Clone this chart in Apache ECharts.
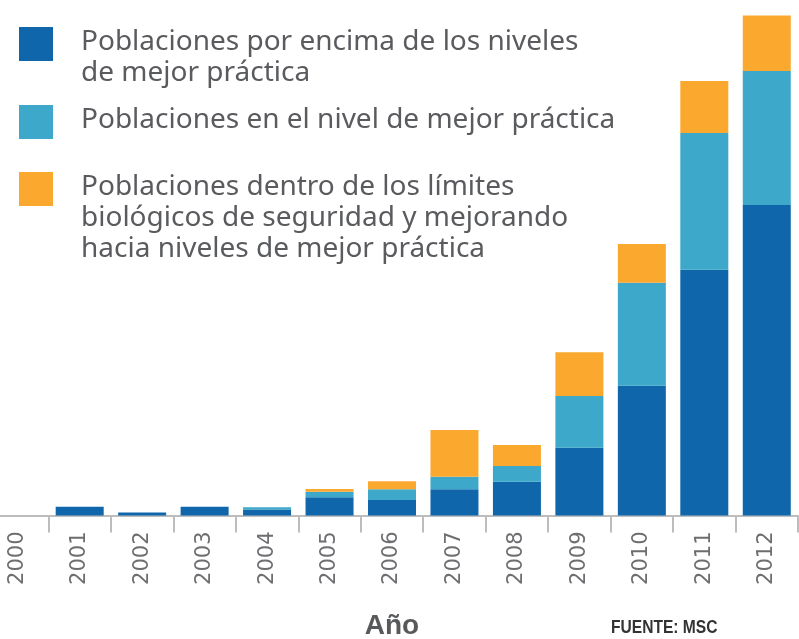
<!DOCTYPE html>
<html>
<head>
<meta charset="utf-8">
<script src="https://cdn.jsdelivr.net/npm/echarts@6/dist/echarts.min.js"></script>
<style>html,body{margin:0;padding:0;background:#fff}#c{width:799px;height:639px}</style>
</head>
<body>
<div id="c"></div>
<script>
const years = ['2000','2001','2002','2003','2004','2005','2006','2007','2008','2009','2010','2011','2012'];
const seriesNames = [
  'Poblaciones por encima de los niveles\nde mejor práctica',
  'Poblaciones en el nivel de mejor práctica',
  'Poblaciones dentro de los límites\nbiológicos de seguridad y mejorando\nhacia niveles de mejor práctica'
];
// relative heights (arbitrary units)
const aboveBest = [null, 8.7, 3, 8.7, 6, 18.2, 15.5, 26.2, 33.8, 67.8, 129.8, 245.8, 310.5];
const atBest    = [null, 0, 0, 0, 2.3, 5.6, 10.7, 12.6, 15.7, 51.7, 103, 136.7, 134];
const improving = [null, 0, 0, 0, 0, 2.7, 8, 46.7, 21, 43.7, 38.7, 52, 57];
const axisTitle = 'Año';
const sourceText = 'FUENTE: MSC';

const colors = ['#0f66ab', '#3da8ca', '#fba82f'];
const chart = echarts.init(document.getElementById('c'), null, {renderer: 'canvas'});

const legendTops = [27, 105, 172];
const graphic = [];
seriesNames.forEach((n, i) => {
  graphic.push({type: 'rect', shape: {x: 19, y: legendTops[i], width: 34, height: 34}, style: {fill: colors[i]}});
  graphic.push({type: 'text', style: {x: 81, y: legendTops[i], text: n, fill: '#5a5b5e',
    font: '28px "Noto Sans"', lineHeight: 31, verticalAlign: 'top', align: 'left'}});
});
graphic.push({type: 'text', x: 611, y: 628, scaleX: 0.82, style: {x: 0, y: 0, text: sourceText, fill: '#333333',
  font: 'bold 19px "Liberation Sans"', verticalAlign: 'middle', align: 'left'}});

const mk = (name, data, c) => ({
  name: name, type: 'bar', stack: 'total', data: data, barWidth: 48,
  itemStyle: {color: c}, emphasis: {disabled: true}
});

chart.setOption({
  animation: false,
  grid: {left: -14, right: 1, top: 15.5, bottom: 123.5, containLabel: false, outerBoundsMode: 'none'},
  xAxis: {
    type: 'category', data: years,
    axisLine: {lineStyle: {color: '#bdbdbd', width: 2}},
    axisTick: {show: true, length: 17, lineStyle: {color: '#bdbdbd', width: 2}},
    axisLabel: {rotate: 90, margin: 16, color: '#6d6e71', fontSize: 21, fontFamily: '"DejaVu Sans"', interval: 0},
    name: axisTitle, nameLocation: 'middle', nameGap: 97,
    nameTextStyle: {color: '#58595b', fontSize: 28, fontWeight: 'bold', fontFamily: '"Liberation Sans"'}
  },
  yAxis: {type: 'value', min: 0, max: 500, show: false, splitLine: {show: false}},
  series: [mk(seriesNames[0], aboveBest, colors[0]), mk(seriesNames[1], atBest, colors[1]), mk(seriesNames[2], improving, colors[2])],
  graphic: graphic
});
</script>
</body>
</html>
